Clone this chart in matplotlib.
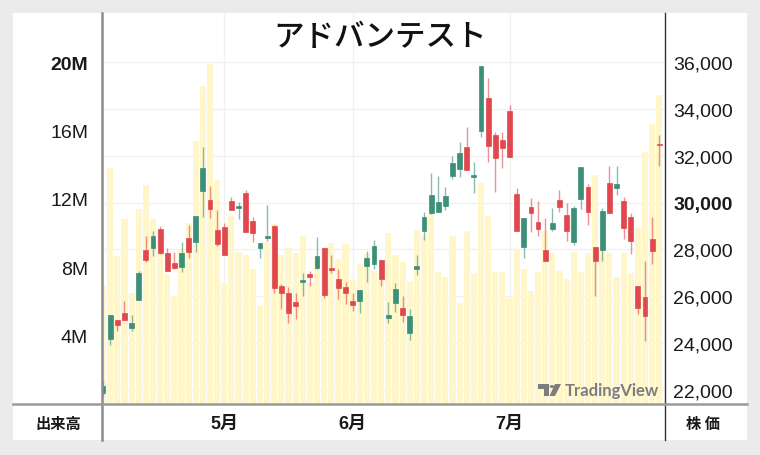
import matplotlib
matplotlib.use('Agg')
import matplotlib.pyplot as plt
from matplotlib.lines import Line2D
from matplotlib.patches import Rectangle, Circle, Polygon
import numpy as np

# ---- data (daily candles, price in JPY, volume in millions of shares) ----
opens = [21850, 24160, 24975, 25275, 24630, 25845, 27970, 28055, 28870, 27830,
         27400, 27230, 28485, 28300, 30480, 30110, 28840, 28940, 30080, 29770,
         30395, 29225, 28055, 28485, 28985, 26445, 26130, 25760, 26600, 26955,
         27200, 28055, 27185, 26730, 26375, 25800, 25775, 27300, 27370, 27545,
         25075, 25705, 25475, 24420, 27155, 28770, 29555, 29585, 29840, 31150,
         31435, 32390, 31080, 33075, 34460, 32890, 32675, 33905, 30365, 28085,
         29820, 29180, 27970, 28870, 30120, 29480, 28300, 30150, 30655, 28110,
         27970, 30835, 30625, 30080, 29370, 26445, 25970, 28440, 32505]
highs = [22380, 25210, 24990, 25775, 25200, 27085, 28580, 28795, 29010, 28055,
         27870, 28325, 29040, 29420, 32365, 30695, 29680, 29110, 30250, 30035,
         30550, 29370, 28260, 29895, 29040, 26515, 26375, 26120, 26985, 27085,
         28515, 28060, 27755, 27155, 26585, 26120, 26275, 27940, 28400, 27550,
         25735, 26560, 26015, 25445, 27770, 29585, 31250, 31150, 30655, 31980,
         32580, 33220, 31720, 35860, 35315, 33005, 33005, 34175, 30610, 29330,
         30195, 30080, 29325, 29765, 30550, 29980, 29865, 31515, 30795, 28115,
         29765, 31550, 31550, 30250, 29555, 26450, 27485, 29395, 32905]
lows = [21740, 23920, 24520, 24960, 24520, 25840, 27445, 27700, 27820, 27080,
        27170, 27040, 27615, 27900, 29370, 29325, 28155, 27765, 29675, 29295,
        28750, 28300, 27615, 28340, 26130, 25445, 24835, 25020, 26015, 26445,
        27155, 25915, 26985, 25875, 25660, 25350, 25260, 26590, 27155, 26415,
        24845, 25305, 24905, 24135, 26915, 28410, 29510, 29580, 29695, 31010,
        31105, 31400, 30410, 32790, 31720, 30440, 31480, 31955, 28765, 27630,
        28725, 28580, 27505, 28770, 29610, 28370, 28195, 29725, 29050, 25990,
        27510, 29550, 30325, 28440, 27800, 25230, 24090, 27370, 31550]
closes = [22165, 25200, 24775, 24975, 24850, 26975, 27555, 28580, 27830, 27085,
          27185, 27840, 27870, 29410, 31465, 29725, 28225, 27770, 29680, 29865,
          28755, 28685, 28255, 28580, 26330, 26130, 25260, 25585, 26700, 26830,
          27725, 26045, 27100, 26330, 26130, 25630, 26270, 27615, 28130, 26730,
          25200, 26300, 25200, 25160, 27300, 29370, 30325, 30035, 30265, 31690,
          32120, 31405, 31180, 35855, 32405, 31905, 32320, 31960, 28770, 29325,
          29540, 28870, 27510, 29125, 29795, 28770, 29755, 31510, 29610, 27485,
          29625, 29555, 30795, 28910, 28340, 25490, 25160, 27915, 32460]
volumes_m = [6.9, 13.8, 8.65, 10.8, 6.5, 11.4, 12.8, 10.8, 10.2, 7.6,
             6.3, 9.0, 10.6, 15.4, 18.6, 19.9, 13.1, 7.1, 11.0, 8.9,
             8.7, 7.9, 5.75, 9.5, 10.5, 8.7, 9.15, 8.85, 9.8, 7.1,
             8.6, 9.2, 9.4, 8.5, 9.35, 7.3, 8.2, 8.75, 7.8, 7.3,
             10.0, 8.7, 8.3, 7.2, 10.2, 9.85, 11.15, 7.75, 7.4, 9.8,
             5.9, 10.1, 7.65, 12.9, 11.0, 7.75, 7.75, 6.2, 9.05, 7.9,
             6.6, 7.75, 10.1, 8.85, 7.8, 7.3, 8.9, 7.75, 8.85, 13.4,
             9.2, 8.85, 7.45, 8.85, 7.65, 10.3, 14.75, 16.4, 18.1]
month_labels = ['5月', '6月', '7月']
month_index = [17, 35, 57]
price_ticks = [22000, 24000, 26000, 28000, 30000, 32000, 34000, 36000]
volume_ticks_m = [4, 8, 12, 16, 20]
title = 'アドバンテスト'

plt.rcParams['font.family'] = ['Liberation Sans', 'Noto Sans CJK JP', 'DejaVu Sans']

W, H = 760, 456
fig = plt.figure(figsize=(7.6, 4.56), dpi=100)
fig.patch.set_facecolor('#ebebeb')

def fx(px):
    return px / W

def fy(py):
    return 1 - py / H

# white panel
fig.add_artist(Rectangle((fx(13), fy(441)), fx(747) - fx(13), fy(14) - fy(441),
                         transform=fig.transFigure, facecolor='white',
                         edgecolor='none', zorder=0))

rect = [fx(102), fy(405), fx(665) - fx(102), fy(14) - fy(405)]
ax_g = fig.add_axes(rect, zorder=1)
ax_v = fig.add_axes(rect, zorder=2)
ax_p = fig.add_axes(rect, zorder=3)

n = len(opens)
x = np.arange(n)
xlim = (-0.15, 78.8)
plim = (21388, 38108)
vlim = (0, 22.87)

for a in (ax_g, ax_v, ax_p):
    a.set_xlim(*xlim)
    a.patch.set_visible(False)
    for s in a.spines.values():
        s.set_visible(False)
    a.tick_params(length=0)

# grid
ax_g.set_ylim(*plim)
ax_g.set_yticks(price_ticks)
ax_g.set_xticks(month_index)
ax_g.grid(True, color='#f1f1f1', lw=1)
ax_g.tick_params(labelleft=False, labelbottom=False)

# volume
ax_v.bar(x, volumes_m, width=0.86, color='#fff6c9', linewidth=0)
ax_v.set_ylim(*vlim)
ax_v.set_xticks([])
ax_v.set_yticks(volume_ticks_m)
ax_v.set_yticklabels([f'{v}M' for v in volume_ticks_m], fontsize=14, color='#1a1a1a')
ax_v.tick_params(axis='y', pad=10)
for lab, v in zip(ax_v.get_yticklabels(), volume_ticks_m):
    if v == 20:
        lab.set_fontweight('bold')

# candles
o = np.array(opens); c = np.array(closes)
green, red = '#3c8f78', '#e0484e'
up = c >= o
cols = [green if u else red for u in up]
ax_p.vlines(x, lows, highs, colors=cols, lw=1, alpha=0.6)
ax_p.bar(x, np.abs(c - o), bottom=np.minimum(o, c), width=0.68,
         color=cols, edgecolor=cols, linewidth=0.5)
ax_p.set_ylim(*plim)
ax_p.yaxis.tick_right()
ax_p.set_yticks(price_ticks)
ax_p.set_yticklabels([f'{p:,}' for p in price_ticks], fontsize=14, color='#1a1a1a')
ax_p.tick_params(axis='y', pad=6)
for lab, p in zip(ax_p.get_yticklabels(), price_ticks):
    if p == 30000:
        lab.set_fontweight('bold')
ax_p.set_xticks(month_index)
ax_p.set_xticklabels(month_labels, fontsize=13, fontweight='bold', color='#1a1a1a')
ax_p.tick_params(axis='x', pad=8)

# separators
fig.add_artist(Line2D([fx(102), fx(102)], [fy(14), fy(441)], color='#8c8c8c', lw=1.8, zorder=6))
fig.add_artist(Line2D([fx(665), fx(665)], [fy(14), fy(441)], color='#333333', lw=1.0, zorder=6))
fig.add_artist(Line2D([fx(13), fx(747)], [fy(405), fy(405)], color='#9a9a9a', lw=1.8, zorder=6))

# texts
fig.text(0.5, fy(38), title, ha='center', va='center', fontsize=22,
         family=['Noto Sans CJK JP'], fontweight='medium', color='#111111', zorder=10)
fig.text(fx(58), fy(424), '出来高', ha='center', va='center', fontsize=11,
         family=['Noto Sans CJK JP'], fontweight='bold', color='#1a1a1a', zorder=10)
fig.text(fx(703), fy(424), '株 価', ha='center', va='center', fontsize=11,
         family=['Noto Sans CJK JP'], fontweight='bold', color='#1a1a1a', zorder=10)

# TradingView watermark
wm = '#7d7d7d'
fig.text(fx(565), fy(391), 'TradingView', ha='left', va='center', fontsize=12,
         family=['Lato'], fontweight='bold', color=wm, zorder=10)
fig.add_artist(Rectangle((fx(538), fy(389.5)), fx(549) - fx(538), fy(385) - fy(389.5),
                         transform=fig.transFigure, facecolor=wm, edgecolor='none', zorder=10))
fig.add_artist(Rectangle((fx(544), fy(397)), fx(549) - fx(544), fy(385) - fy(397),
                         transform=fig.transFigure, facecolor=wm, edgecolor='none', zorder=10))
fig.add_artist(Circle((fx(552), fy(387.5)), 2.4 / W, transform=fig.transFigure,
                      facecolor=wm, edgecolor='none', zorder=10))
fig.add_artist(Polygon([(fx(555), fy(385)), (fx(561), fy(385)), (fx(555), fy(397)), (fx(549.5), fy(397))],
                       closed=True, transform=fig.transFigure, facecolor=wm, edgecolor='none', zorder=10))

fig.savefig('out.png', dpi=100, facecolor=fig.get_facecolor())
